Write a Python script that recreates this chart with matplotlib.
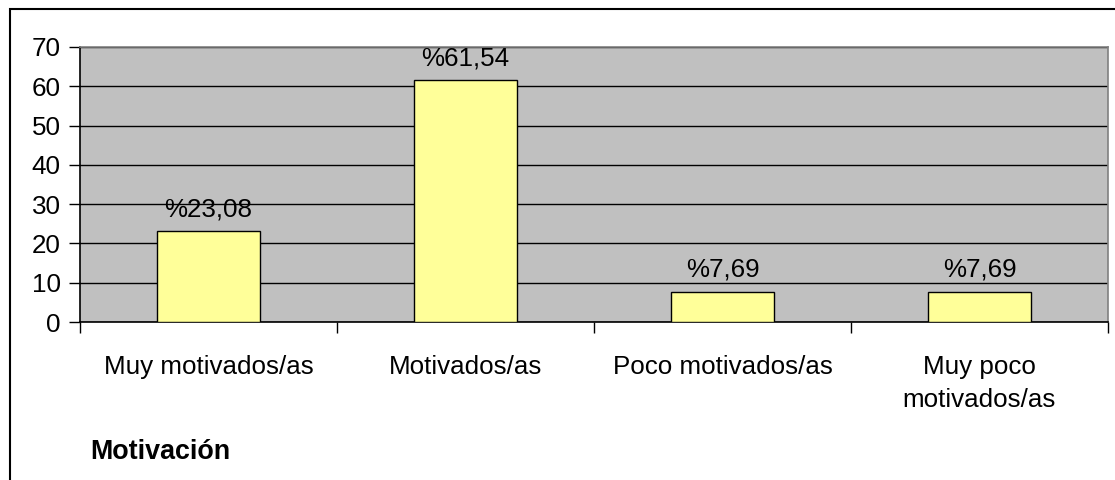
import numpy as np
import matplotlib
matplotlib.use("Agg")
import matplotlib.pyplot as plt
from matplotlib.patches import Rectangle

categories = ["Muy motivados/as", "Motivados/as", "Poco motivados/as", "Muy poco\nmotivados/as"]
values = [23.08, 61.54, 7.69, 7.69]
labels = ["%23,08", "%61,54", "%7,69", "%7,69"]
yticks = [0, 10, 20, 30, 40, 50, 60, 70]

plt.rcParams['font.family'] = ['Liberation Sans', 'DejaVu Sans']
fs = 18.7

fig = plt.figure(figsize=(11.15, 4.8), dpi=100)
ax = fig.add_axes([80/1115, 1-322/480, 1028/1115, 275/480])
ax.set_facecolor('#C0C0C0')

x = np.arange(len(categories))
ax.bar(x, values, width=0.4, color='#FFFF99', edgecolor='black', linewidth=1, zorder=3)
for xi, v, lab in zip(x, values, labels):
    ax.text(xi, v + 2.5, lab, ha='center', va='bottom', fontsize=fs, zorder=4)

ax.set_xlim(-0.5, len(categories) - 0.5)
ax.set_ylim(0, 70)
ax.set_yticks(yticks)
ax.set_yticklabels([str(t) for t in yticks], fontsize=fs)
ax.yaxis.grid(True, color='black', linewidth=1.0, zorder=1)
ax.set_axisbelow(True)
ax.tick_params(axis='y', length=8, width=1, pad=6, direction='out')

ax.set_xticks(x)
ax.set_xticklabels(categories, fontsize=fs, va='top', linespacing=1.45)
ax.tick_params(axis='x', which='major', length=0, pad=24)
ax.set_xticks(np.arange(len(categories) + 1) - 0.5, minor=True)
ax.tick_params(axis='x', which='minor', length=8, width=1, direction='out')

for s in ['left', 'bottom']:
    ax.spines[s].set_color('black')
    ax.spines[s].set_linewidth(1.2)
for s in ['top', 'right']:
    ax.spines[s].set_color('#808080')
    ax.spines[s].set_linewidth(1.2)

fig.text(90/1115, 1-452/480, "Motivación", fontsize=19.4, fontweight='bold',
         ha='left', va='center')

fig.patches.append(Rectangle((10/1115, -0.1), 1.2, 1 - 9/480 + 0.1, transform=fig.transFigure,
                             fill=False, edgecolor='black', linewidth=1.5))

fig.savefig("out.png", dpi=100)
